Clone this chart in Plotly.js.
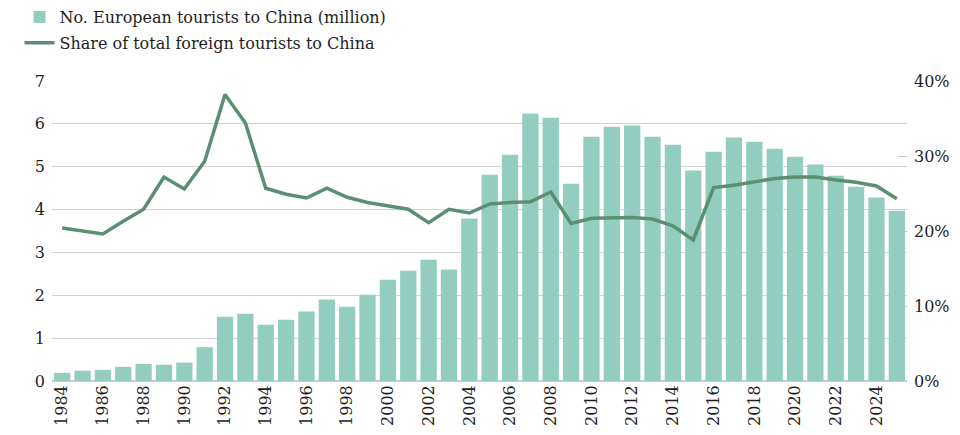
<!DOCTYPE html>
<html>
<head>
<meta charset="utf-8">
<script src="https://cdn.plot.ly/plotly-3.0.1.min.js"></script>
<style>html,body{margin:0;padding:0;background:#fff;}#chart{width:960px;height:435px;}</style>
</head>
<body>
<div id="chart"></div>
<script>
const years = [1984,1985,1986,1987,1988,1989,1990,1991,1992,1993,1994,1995,1996,1997,1998,1999,2000,2001,2002,2003,2004,2005,2006,2007,2008,2009,2010,2011,2012,2013,2014,2015,2016,2017,2018,2019,2020,2021,2022,2023,2024,2025];
const touristsMillion = [0.19,0.24,0.26,0.33,0.40,0.38,0.43,0.79,1.50,1.57,1.31,1.43,1.62,1.90,1.73,2.01,2.36,2.57,2.83,2.60,3.79,4.81,5.28,6.24,6.14,4.60,5.70,5.93,5.96,5.70,5.51,4.91,5.35,5.68,5.58,5.42,5.23,5.05,4.79,4.53,4.28,3.97];
const sharePct = [20.4,20.0,19.6,21.3,22.9,27.2,25.6,29.3,38.2,34.4,25.7,24.9,24.4,25.7,24.5,23.8,23.4,22.9,21.1,22.9,22.4,23.6,23.8,23.9,25.2,21.0,21.7,21.8,21.8,21.6,20.7,18.8,25.8,26.1,26.5,27.0,27.2,27.2,26.8,26.5,26.0,24.3];
const xTickVals = [1984,1986,1988,1990,1992,1994,1996,1998,2000,2002,2004,2006,2008,2010,2012,2014,2016,2018,2020,2022,2024];
const leftTicks = [0,1,2,3,4,5,6,7];
const rightTicks = [0,10,20,30,40];
const rightTickText = ['0%','10%','20%','30%','40%'];

const FONT = 'DejaVu Serif, serif';
const TF = {family:FONT, size:16, color:'#1e1e1e'};
const traces = [
  {type:'bar', x:years, y:touristsMillion, name:'No. European tourists to China (million)',
   legendgroup:'a', marker:{color:'#93cdbf'}},
  {type:'scatter', mode:'lines', x:years, y:sharePct.map(v=>v/100), yaxis:'y2',
   name:'Share of total foreign tourists to China', legendgroup:'b',
   line:{color:'#5b8f74', width:3.5}}
];
const layout = {
  width:960, height:435,
  margin:{l:52, r:53, t:81, b:54, autoexpand:false},
  paper_bgcolor:'#fff', plot_bgcolor:'#fff',
  font:TF,
  bargap:0.2,
  showlegend:true,
  legend:{x:-0.038, xanchor:'left', y:1.27, yanchor:'top', orientation:'v',
          font:TF, bgcolor:'rgba(0,0,0,0)', traceorder:'grouped', tracegroupgap:2, itemwidth:30},
  xaxis:{range:[1983.5,2025.5], tickvals:xTickVals, ticktext:xTickVals.map(String), tickangle:-90,
         showgrid:false, zeroline:false, showline:false, ticks:'', fixedrange:true,
         tickfont:TF},
  yaxis:{range:[0,7], tickvals:leftTicks, showgrid:true, gridcolor:'#cfd3d3', gridwidth:1,
         zeroline:true, zerolinecolor:'#c8cccc', zerolinewidth:1.5, showline:false, ticks:'',
         tickfont:TF, ticklabelstandoff:6},
  yaxis2:{range:[0,0.4], overlaying:'y', side:'right', tickvals:rightTicks.map(v=>v/100), ticktext:rightTickText,
          showgrid:false, zeroline:false, showline:false, ticks:'inside', ticklen:9, tickcolor:'#bfc4c4',
          layer:'below traces', tickfont:TF, ticklabelstandoff:6}
};
Plotly.newPlot('chart', traces, layout, {displayModeBar:false, staticPlot:true});
</script>
</body>
</html>
